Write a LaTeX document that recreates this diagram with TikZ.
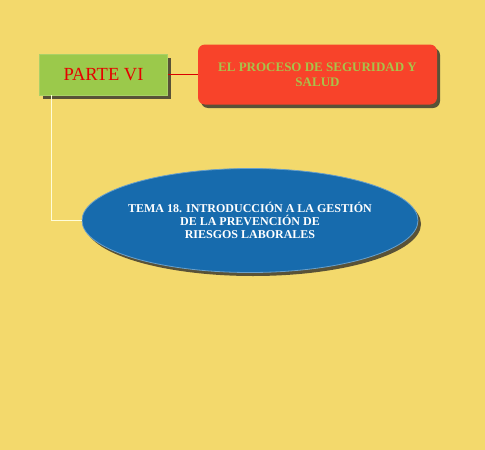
\documentclass[tikz,border=0pt]{standalone}
\usepackage{fontspec}
\setmainfont{Liberation Serif}
\usetikzlibrary{positioning,calc,shapes.geometric,shadows}

\definecolor{fondo}{HTML}{F3D96C}
\definecolor{verde}{HTML}{9BC94B}
\definecolor{rojo}{HTML}{F8432A}
\definecolor{azul}{HTML}{176BAD}
\definecolor{oliva}{HTML}{A9C24A}

\begin{document}
\begin{tikzpicture}[x=1pt,y=1pt,node distance=2cm,on grid]

    \tikzset{
      sombra/.style={drop shadow={shadow xshift=3pt,shadow yshift=-3.5pt,opacity=.75,fill=black!85}},
      parte/.style={rectangle,fill=verde,draw=verde!85!white,line width=.6pt,sombra,
        minimum width=128pt,minimum height=41pt,inner sep=0pt,
        text=red!90!black,font=\fontsize{18.5}{20}\selectfont},
      proceso/.style={rectangle,rounded corners=7pt,fill=rojo,sombra,
        minimum width=239pt,minimum height=60pt,inner sep=0pt,align=center,
        text=oliva,font=\fontsize{13}{15}\selectfont\bfseries},
      tema/.style={ellipse,fill=azul,draw=azul!65!white,line width=.8pt,sombra,
        minimum width=336pt,minimum height=104pt,inner sep=-4pt,align=center,
        text=white,font=\fontsize{12}{13}\selectfont\bfseries}
    }

    \fill[fondo] (0,0) rectangle (485,-450);
    \useasboundingbox (0,0) rectangle (485,-450);

    \node[parte] (p6) at (103.5,-74.5) {PARTE VI};
    \node[proceso] (seg) [right = 214pt of p6] {EL PROCESO DE SEGURIDAD Y\\SALUD};
    \node[tema] (t18) [below right = 146pt and 146.5pt of p6]
      {TEMA 18. INTRODUCCIÓN A LA GESTIÓN\\DE LA PREVENCIÓN DE\\RIESGOS LABORALES};

    \draw[red!85!black,line width=.6pt] (p6) -- (seg);
    \draw[white!85!yellow,line width=.9pt] ($(p6.south west)+(12.5,0)$) |- (t18);
\end{tikzpicture}
\end{document}
